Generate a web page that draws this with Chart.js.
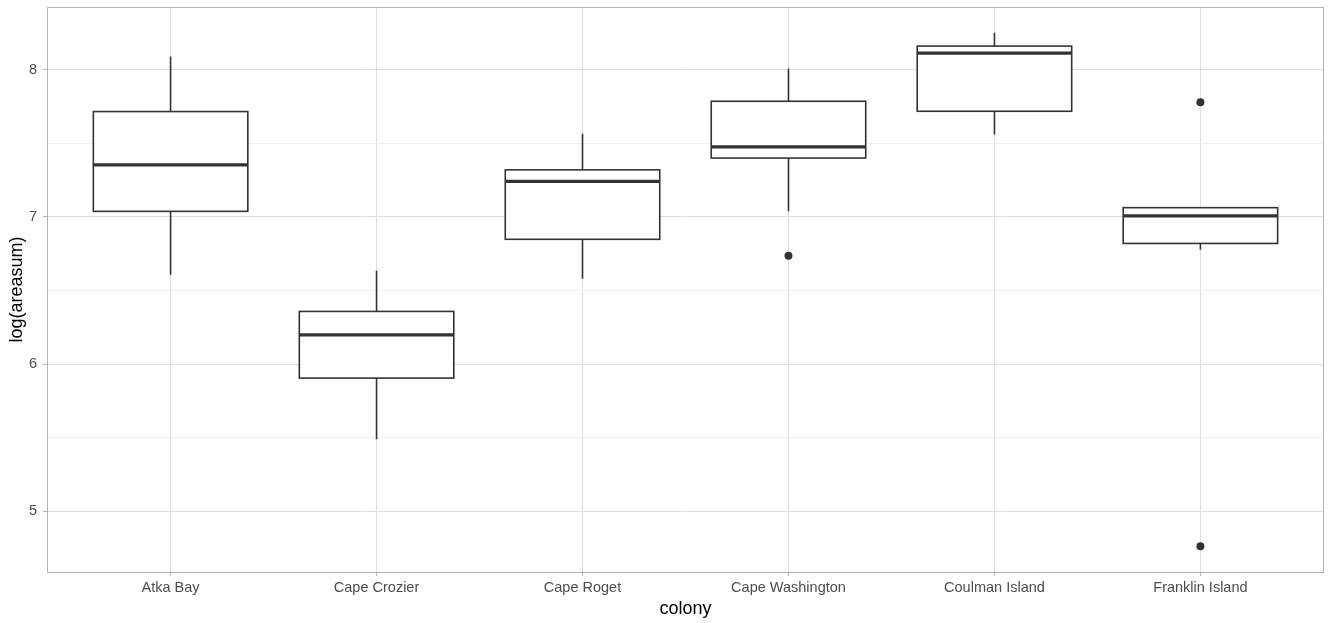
<!DOCTYPE html>
<html lang="en">
<head>
<meta charset="UTF-8">
<title>log(areasum) by colony</title>
<script src="https://cdn.jsdelivr.net/npm/chart.js"></script>
<style>
  html, body { margin: 0; padding: 0; background: #fff; }
  #wrap { width: 1328px; height: 623px; }
</style>
</head>
<body>
<div id="wrap"><canvas id="box_chart"></canvas></div>
<script>
// box statistics per colony
const colonies = ["Atka Bay", "Cape Crozier", "Cape Roget", "Cape Washington", "Coulman Island", "Franklin Island"];
const whiskerLow  = [6.608, 5.490, 6.580, 7.038, 7.560, 6.777];
const q1          = [7.038, 5.905, 6.848, 7.400, 7.718, 6.820];
const median      = [7.354, 6.199, 7.242, 7.476, 8.113, 7.007];
const q3          = [7.716, 6.358, 7.320, 7.786, 8.161, 7.063];
const whiskerHigh = [8.090, 6.635, 7.565, 8.009, 8.252, 7.063];
// outliers: colony index + value
const outlierColony = [3, 5, 5];
const outlierValue  = [6.737, 7.780, 4.762];
const yTicks = [5, 5.5, 6, 6.5, 7, 7.5, 8];

Chart.defaults.font.family = '"Liberation Sans", Arial, sans-serif';

// draws whiskers, boxes and medians through the chart's scales
const boxPlugin = {
    id: 'boxes',
    beforeDatasetsDraw(chart) {
        const { ctx, scales: { x, y } } = chart;
        ctx.save();
        ctx.strokeStyle = '#333333';
        colonies.forEach((c, i) => {
            const xc = x.getPixelForValue(i);
            const xl = x.getPixelForValue(i - 0.375);
            const xr = x.getPixelForValue(i + 0.375);
            const top = y.getPixelForValue(q3[i]);
            const bot = y.getPixelForValue(q1[i]);
            ctx.lineWidth = 1.6;
            ctx.beginPath();
            ctx.moveTo(xc, y.getPixelForValue(whiskerHigh[i]));
            ctx.lineTo(xc, top);
            ctx.moveTo(xc, bot);
            ctx.lineTo(xc, y.getPixelForValue(whiskerLow[i]));
            ctx.stroke();
            ctx.fillStyle = '#ffffff';
            ctx.fillRect(xl, top, xr - xl, bot - top);
            ctx.strokeRect(xl, top, xr - xl, bot - top);
            const ym = y.getPixelForValue(median[i]);
            ctx.lineWidth = 3.2;
            ctx.beginPath();
            ctx.moveTo(xl, ym);
            ctx.lineTo(xr, ym);
            ctx.stroke();
        });
        ctx.restore();
    }
};

// panel border on top of everything
const borderPlugin = {
    id: 'panelBorder',
    afterDraw(chart) {
        const { ctx, chartArea: a } = chart;
        ctx.save();
        ctx.strokeStyle = '#B3B3B3';
        ctx.lineWidth = 1;
        ctx.strokeRect(Math.round(a.left) + 0.5, Math.round(a.top) + 0.5,
            Math.round(a.right - a.left) - 1, Math.round(a.bottom - a.top));
        ctx.restore();
    }
};

new Chart("box_chart", {
    type: "scatter",
    data: {
        datasets: [{
            data: outlierColony.map((c, i) => ({ x: c, y: outlierValue[i] })),
            pointRadius: 4,
            pointHoverRadius: 4,
            backgroundColor: "#333333",
            borderWidth: 0
        }]
    },
    options: {
        responsive: true,
        maintainAspectRatio: false,
        animation: false,
        layout: { padding: { top: 7, right: -3, left: 0, bottom: 0 } },
        plugins: {
            legend: { display: false },
            tooltip: { enabled: false }
        },
        scales: {
            x: {
                type: "linear",
                min: -0.6,
                max: 5.6,
                afterBuildTicks: axis => { axis.ticks = colonies.map((c, i) => ({ value: i })); },
                afterFit: axis => {
                    axis.height = 51;
                    axis.paddingLeft = 0;
                    axis.paddingRight = 0;
                },
                ticks: {
                    autoSkip: false,
                    maxRotation: 0,
                    padding: 3,
                    color: "#4D4D4D",
                    font: { size: 14.5 },
                    callback: v => colonies[v]
                },
                grid: { color: "#DEDEDE", tickColor: "#B3B3B3", tickLength: 4 },
                border: { display: false },
                title: {
                    display: true,
                    text: "colony",
                    color: "#000000",
                    font: { size: 18 },
                    padding: { top: 4, bottom: 3 }
                }
            },
            y: {
                type: "linear",
                min: 4.5875,
                max: 8.4265,
                afterBuildTicks: axis => { axis.ticks = yTicks.map(v => ({ value: v })); },
                afterFit: axis => {
                    axis.width = 47;
                    axis.paddingTop = 0;
                    axis.paddingBottom = 0;
                },
                ticks: {
                    padding: 6,
                    color: "#4D4D4D",
                    font: { size: 14.5 },
                    callback: v => Number.isInteger(v) ? v : ""
                },
                grid: {
                    color: c => Number.isInteger(c.tick.value) ? "#DEDEDE" : "#EFEFEF",
                    tickColor: c => Number.isInteger(c.tick.value) ? "#B3B3B3" : "rgba(0,0,0,0)",
                    tickLength: 4
                },
                border: { display: false },
                title: {
                    display: true,
                    text: "log(areasum)",
                    color: "#000000",
                    font: { size: 18 },
                    padding: { top: 6, bottom: 0 }
                }
            }
        }
    },
    plugins: [boxPlugin, borderPlugin]
});
</script>
</body>
</html>
